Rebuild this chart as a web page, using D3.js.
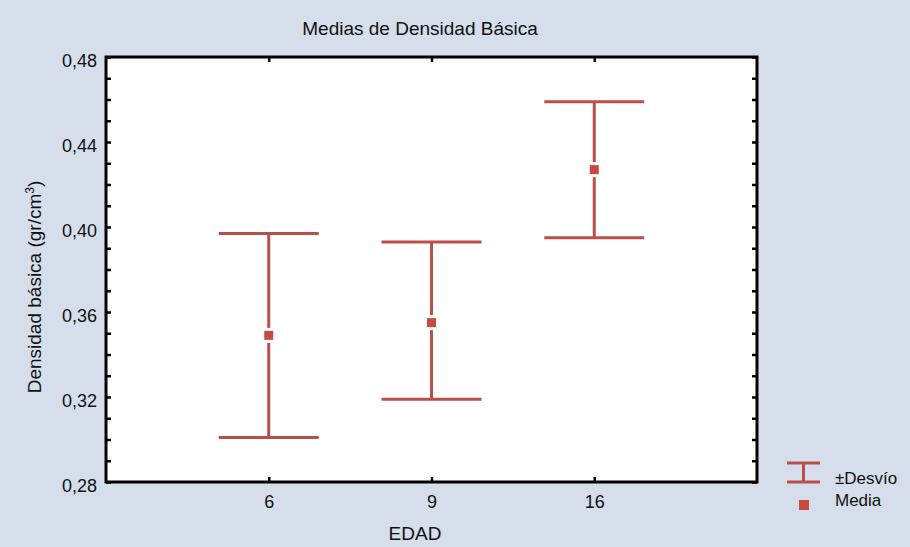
<!DOCTYPE html>
<html lang="es">
  <head>
    <meta charset="utf-8">
    <title>Medias de Densidad Básica</title>
    <style>
      body { margin: 0; background: #d6deec; }
      text { font-family: "Liberation Sans", Arial, sans-serif; fill: #111; }
      .tick line { stroke: #000; stroke-width: 2.5px; }
      .tick text { font-size: 18px; }
      .err line { stroke: #b94f49; stroke-width: 3px; }
    </style>
  </head>
  <body>
    <svg width="910" height="547"></svg>
  </body>
  <script src="https://d3js.org/d3.v7.min.js"></script>
  <script>
  // datos
  var edades = ["6", "9", "16"];
  var medias = [0.349, 0.355, 0.427];
  var desvioSup = [0.397, 0.393, 0.459];
  var desvioInf = [0.301, 0.319, 0.395];
  var yMajor = [0.28, 0.32, 0.36, 0.40, 0.44, 0.48];
  var yMinor = [0.29, 0.30, 0.31, 0.33, 0.34, 0.35, 0.37, 0.38, 0.39, 0.41, 0.42, 0.43, 0.45, 0.46, 0.47];

  var svg = d3.select("svg");
  var mLeft = 106, mRight = 757, mTop = 57, mBottom = 482;

  var es = d3.formatLocale({decimal: ",", thousands: ".", grouping: [3], currency: ["", ""]});
  var fmt = es.format(".2f");

  var x = d3.scalePoint().domain(edades).range([mLeft, mRight]).padding(1);
  var y = d3.scaleLinear().domain([0.28, 0.48]).range([mBottom, mTop]);

  // area del grafico
  svg.append("rect").attr("x", mLeft).attr("y", mTop)
    .attr("width", mRight - mLeft).attr("height", mBottom - mTop)
    .attr("fill", "#fff");

  // ejes (ticks hacia adentro)
  function clean(g) { g.select(".domain").remove(); }
  svg.append("g").attr("transform", "translate(" + mLeft + ",0)")
    .call(d3.axisLeft(y).tickValues(yMajor).tickSizeInner(-5).tickSizeOuter(0).tickPadding(9).tickFormat(fmt))
    .call(clean)
    .selectAll("text").attr("dy", "0.5em");
  svg.append("g").attr("transform", "translate(" + mLeft + ",0)")
    .call(d3.axisLeft(y).tickValues(yMinor).tickSizeInner(-5).tickSizeOuter(0).tickFormat(""))
    .call(clean);
  svg.append("g").attr("transform", "translate(" + mRight + ",0)")
    .call(d3.axisRight(y).tickValues(yMajor.concat(yMinor)).tickSizeInner(-5).tickSizeOuter(0).tickFormat(""))
    .call(clean);
  svg.append("g").attr("transform", "translate(0," + mBottom + ")")
    .call(d3.axisBottom(x).tickSizeInner(-5).tickSizeOuter(0).tickPadding(13))
    .call(clean);
  svg.append("g").attr("transform", "translate(0," + mTop + ")")
    .call(d3.axisTop(x).tickSizeInner(-5).tickSizeOuter(0).tickFormat(""))
    .call(clean);

  svg.append("rect").attr("x", mLeft).attr("y", mTop)
    .attr("width", mRight - mLeft).attr("height", mBottom - mTop)
    .attr("fill", "none").attr("stroke", "#000").attr("stroke-width", 3);

  // barras de desvio
  var cap = 50;
  var err = svg.append("g").attr("class", "err").selectAll("g").data(edades).enter().append("g");
  err.append("line")
    .attr("x1", function(d) { return x(d); }).attr("x2", function(d) { return x(d); })
    .attr("y1", function(d, i) { return y(desvioInf[i]); })
    .attr("y2", function(d, i) { return y(desvioSup[i]); });
  err.append("line")
    .attr("x1", function(d) { return x(d) - cap; }).attr("x2", function(d) { return x(d) + cap; })
    .attr("y1", function(d, i) { return y(desvioSup[i]); })
    .attr("y2", function(d, i) { return y(desvioSup[i]); });
  err.append("line")
    .attr("x1", function(d) { return x(d) - cap; }).attr("x2", function(d) { return x(d) + cap; })
    .attr("y1", function(d, i) { return y(desvioInf[i]); })
    .attr("y2", function(d, i) { return y(desvioInf[i]); });

  // medias
  svg.append("g").selectAll("rect").data(edades).enter().append("rect")
    .attr("x", function(d) { return x(d) - 6; })
    .attr("y", function(d, i) { return y(medias[i]) - 6; })
    .attr("width", 12).attr("height", 12)
    .attr("fill", "#c64a3d").attr("stroke", "#fff").attr("stroke-width", 3);

  // textos
  svg.append("text").attr("x", 420).attr("y", 35).attr("text-anchor", "middle")
    .style("font-size", "19px").text("Medias de Densidad Básica");
  svg.append("text").attr("x", 415).attr("y", 540).attr("text-anchor", "middle")
    .style("font-size", "19px").text("EDAD");
  svg.append("text").attr("transform", "translate(41,287) rotate(-90)").attr("text-anchor", "middle")
    .style("font-size", "19px").html("Densidad básica (gr/cm<tspan dy='-7' font-size='12px'>3</tspan><tspan dy='7'>)</tspan>");

  // leyenda
  var lg = svg.append("g").attr("class", "err");
  lg.append("line").attr("x1", 787).attr("x2", 820).attr("y1", 463).attr("y2", 463);
  lg.append("line").attr("x1", 787).attr("x2", 820).attr("y1", 482).attr("y2", 482);
  lg.append("line").attr("x1", 803.5).attr("x2", 803.5).attr("y1", 463).attr("y2", 482);
  svg.append("rect").attr("x", 799).attr("y", 500).attr("width", 10).attr("height", 10).attr("fill", "#c64a3d");
  svg.append("text").attr("x", 835).attr("y", 484).style("font-size", "17px").text("±Desvío");
  svg.append("text").attr("x", 835).attr("y", 506).style("font-size", "17px").text("Media");
  </script>
</html>
